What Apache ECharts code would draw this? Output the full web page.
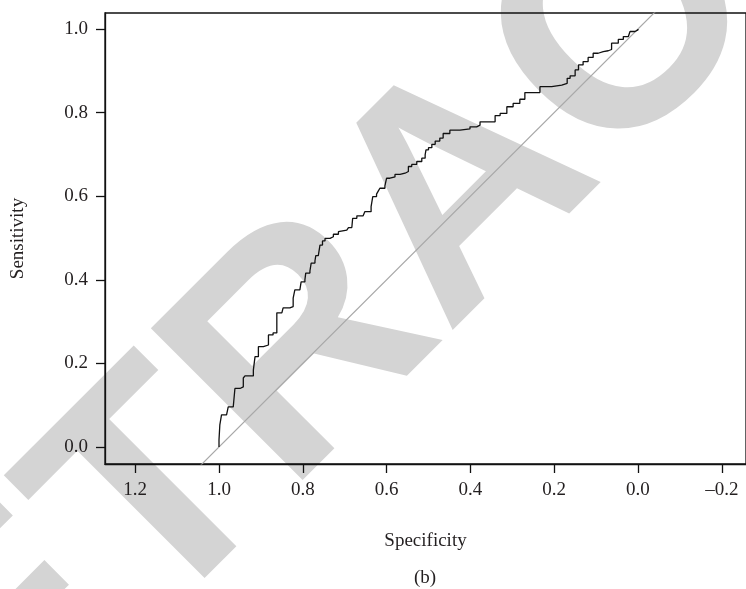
<!DOCTYPE html>
<html>
<head>
<meta charset="utf-8">
<script src="https://cdn.jsdelivr.net/npm/echarts@6/dist/echarts.min.js"></script>
<style>
html,body{margin:0;padding:0;background:#fff;}
#chart{width:746px;height:589px;}
</style>
</head>
<body>
<div id="chart"></div>
<script>
// ROC curve values
const specificity = [1.000,1.000,0.998,0.994,0.982,0.978,0.966,0.962,0.950,0.942,0.938,0.918,0.914,0.906,0.894,0.882,0.871,0.862,0.850,0.847,0.831,0.823,0.819,0.807,0.804,0.795,0.793,0.783,0.780,0.771,0.769,0.763,0.759,0.753,0.747,0.735,0.727,0.715,0.711,0.695,0.691,0.683,0.681,0.671,0.656,0.652,0.637,0.633,0.624,0.620,0.616,0.604,0.600,0.592,0.580,0.568,0.556,0.548,0.540,0.528,0.516,0.508,0.506,0.500,0.492,0.484,0.473,0.465,0.449,0.425,0.401,0.385,0.377,0.357,0.341,0.329,0.313,0.298,0.282,0.270,0.242,0.234,0.206,0.182,0.169,0.162,0.150,0.142,0.131,0.119,0.107,0.095,0.083,0.071,0.063,0.047,0.035,0.023,0.019,0.007,0.000];
const sensitivity = [0.000,0.017,0.053,0.077,0.077,0.096,0.098,0.140,0.144,0.165,0.170,0.184,0.216,0.240,0.244,0.268,0.273,0.321,0.324,0.333,0.336,0.356,0.376,0.379,0.395,0.400,0.416,0.421,0.440,0.445,0.458,0.459,0.483,0.493,0.499,0.503,0.509,0.515,0.519,0.522,0.525,0.525,0.547,0.553,0.557,0.563,0.575,0.599,0.605,0.612,0.619,0.625,0.643,0.646,0.652,0.655,0.659,0.671,0.676,0.683,0.691,0.699,0.711,0.716,0.724,0.732,0.739,0.750,0.758,0.761,0.766,0.770,0.778,0.778,0.793,0.798,0.814,0.822,0.832,0.848,0.848,0.862,0.866,0.870,0.882,0.888,0.902,0.914,0.922,0.932,0.942,0.946,0.948,0.951,0.966,0.975,0.982,0.984,0.994,0.998,1.000];
// reference diagonal (chance line)
const diagX = [1.2, -0.2];
const diagY = [-0.2, 1.2];
// tick labels
const xTicks = [1.2, 1.0, 0.8, 0.6, 0.4, 0.2, 0.0, -0.2];
const yTicks = [0.0, 0.2, 0.4, 0.6, 0.8, 1.0];

const chart = echarts.init(document.getElementById('chart'), null, {renderer:'canvas'});
const serif = '"Liberation Serif", "DejaVu Serif", serif';
const txt = '#231f20';
const fmt = v => (v < 0 ? '\u2013' + Math.abs(v).toFixed(1) : v.toFixed(1));
const axisLineStyle = {color: '#111', width: 1.3};

chart.setOption({
  animation: false,
  backgroundColor: '#fff',
  graphic: [
    {
      type: 'text', x: 466, y: 195, rotation: Math.PI / 4, z: -10, silent: true,
      style: {text: 'RETRACTED', font: 'bold 312px "Liberation Sans", Arial, sans-serif',
        fill: '#d4d4d4', align: 'center', verticalAlign: 'middle', textAlign: 'center', textVerticalAlign: 'middle'}
    },
    {
      type: 'text', x: 425, y: 578, z: 10,
      style: {text: '(b)', font: '19px ' + serif, fill: txt, align: 'center', verticalAlign: 'middle', textAlign: 'center', textVerticalAlign: 'middle'}
    }
  ],
  grid: {left: 105, top: 13, right: -2, bottom: 125, show: true, borderColor: '#111', borderWidth: 1.3, backgroundColor: 'transparent'},
  xAxis: {
    type: 'value', inverse: true, min: -0.2578, max: 1.2721,
    name: 'Specificity', nameLocation: 'middle', nameGap: 68,
    nameTextStyle: {fontFamily: serif, fontSize: 19, color: txt},
    axisLine: {show: true, onZero: false, lineStyle: axisLineStyle},
    axisTick: {show: true, inside: false, length: 9, customValues: xTicks, lineStyle: axisLineStyle},
    axisLabel: {customValues: xTicks, formatter: fmt, margin: 17, fontFamily: serif, fontSize: 19, color: txt},
    splitLine: {show: false}
  },
  yAxis: {
    type: 'value', min: -0.0407, max: 1.0383,
    name: 'Sensitivity', nameLocation: 'middle', nameGap: 77,
    nameTextStyle: {fontFamily: serif, fontSize: 19, color: txt},
    axisLine: {show: true, onZero: false, lineStyle: axisLineStyle},
    axisTick: {show: true, inside: false, length: 9, customValues: yTicks, lineStyle: axisLineStyle},
    axisLabel: {customValues: yTicks, formatter: fmt, margin: 17, fontFamily: serif, fontSize: 19, color: txt},
    splitLine: {show: false}
  },
  series: [
    {
      type: 'line', data: diagX.map((x, i) => [x, diagY[i]]), showSymbol: false, clip: true,
      lineStyle: {color: '#a8a8a8', width: 1.2}, z: 2
    },
    {
      type: 'line', data: specificity.map((x, i) => [x, sensitivity[i]]), step: 'end',
      showSymbol: false, clip: true, lineStyle: {color: '#111', width: 1.3}, z: 3
    }
  ]
});
</script>
</body>
</html>
